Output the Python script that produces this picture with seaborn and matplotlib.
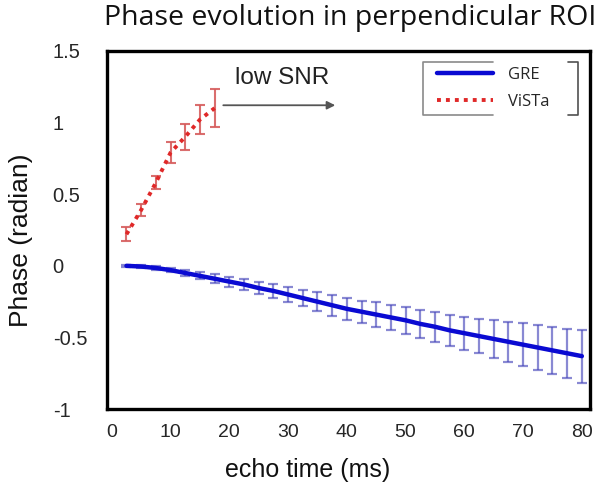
#!/usr/bin/env python3
"""Phase evolution in perpendicular ROI: GRE vs ViSTa."""

import matplotlib

matplotlib.use("Agg")
import matplotlib.pyplot as plt
import seaborn as sns

# echo times (ms) and mean phase (radian) with half error bars
TE_GRE = [2.5, 5, 7.5, 10, 12.5, 15, 17.5, 20, 22.5, 25, 27.5, 30, 32.5, 35,
          37.5, 40, 42.5, 45, 47.5, 50, 52.5, 55, 57.5, 60, 62.5, 65, 67.5,
          70, 72.5, 75, 77.5, 80]
GRE_PHASE = [0.0, -0.005, -0.015, -0.03, -0.05, -0.07, -0.09, -0.11, -0.13,
             -0.155, -0.175, -0.20, -0.225, -0.25, -0.275, -0.30, -0.32,
             -0.34, -0.36, -0.38, -0.405, -0.425, -0.45, -0.47, -0.49, -0.51,
             -0.53, -0.55, -0.57, -0.59, -0.61, -0.63]
GRE_ERR = [0.005, 0.008, 0.012, 0.016, 0.02, 0.025, 0.03, 0.035, 0.04, 0.045,
           0.05, 0.052, 0.058, 0.065, 0.072, 0.075, 0.078, 0.085, 0.09, 0.095,
           0.10, 0.105, 0.11, 0.115, 0.12, 0.13, 0.14, 0.148, 0.155, 0.162,
           0.17, 0.185]

TE_VISTA = [2.5, 5, 7.5, 10, 12.5, 15, 17.5]
VISTA_PHASE = [0.22, 0.39, 0.58, 0.79, 0.90, 1.02, 1.10]
VISTA_ERR = [0.05, 0.04, 0.045, 0.075, 0.09, 0.10, 0.13]

X_TICKS = [0, 10, 20, 30, 40, 50, 60, 70, 80]
Y_TICKS = [-1, -0.5, 0, 0.5, 1, 1.5]
Y_TICK_LABELS = ["-1", "-0.5", "0", "0.5", "1", "1.5"]

sns.set_theme(style="white")
plt.rcParams["font.family"] = ["Liberation Sans", "DejaVu Sans"]

fig = plt.figure(figsize=(6, 4.93), dpi=100)
ax = fig.add_axes([0.178, 0.170, 0.805, 0.727])

ax.errorbar(TE_GRE, GRE_PHASE, yerr=GRE_ERR, fmt="none", ecolor="#4a4abc",
            alpha=0.65, elinewidth=1.6, capsize=3.5, capthick=1.6, zorder=2)
sns.lineplot(x=TE_GRE, y=GRE_PHASE, ax=ax, color="#0a0ad2", lw=3.2,
             label="GRE", zorder=3)

ax.errorbar(TE_VISTA, VISTA_PHASE, yerr=VISTA_ERR, fmt="none",
            ecolor="#d65e5e", alpha=0.9, elinewidth=1.5, capsize=3.5,
            capthick=1.5, zorder=2)
sns.lineplot(x=TE_VISTA, y=VISTA_PHASE, ax=ax, color="#e02828", lw=2.8,
             linestyle=(0, (1, 1.3)), label="ViSTa", zorder=3)

ax.set_xlim(-0.85, 81.35)
ax.set_ylim(-1, 1.5)
ax.set_xticks(X_TICKS)
ax.set_yticks(Y_TICKS)
ax.set_yticklabels(Y_TICK_LABELS)
for lab in ax.get_yticklabels():
    lab.set_horizontalalignment("left")
ax.tick_params(axis="y", length=0, pad=39, labelsize=14.5, labelcolor="#262626")
ax.tick_params(axis="x", length=0, pad=11, labelsize=14, labelcolor="#262626")

for spine in ax.spines.values():
    spine.set_color("black")
    spine.set_linewidth(2.4)

ax.set_xlabel("echo time (ms)", fontsize=18, color="#111111")
ax.xaxis.set_label_coords(0.416, -0.135)
ax.set_ylabel("Phase (radian)", fontsize=19, color="#111111")
ax.yaxis.set_label_coords(-0.152, 0.472)

ax.annotate("", xy=(38.5, 1.12), xytext=(18.5, 1.12),
            arrowprops=dict(arrowstyle="-|>", color="#555555", lw=1.3,
                            mutation_scale=12))
ax.text(29, 1.31, "low SNR", fontsize=17.5, ha="center", va="center",
        color="#222222")

# legend without its own frame; the bracket-like frame is drawn separately
ax.legend(loc="upper left", bbox_to_anchor=(0.683, 0.955),
          borderaxespad=0, borderpad=0, handlelength=3.35,
          handletextpad=0.9, labelspacing=0.68, frameon=False,
          prop={"family": ["Open Sans", "DejaVu Sans"], "size": 12})
ax.plot([0.799, 0.654, 0.654, 0.799], [0.969, 0.969, 0.821, 0.821],
        transform=ax.transAxes, clip_on=False, color="#8a8a8a", lw=1.2)
ax.plot([0.954, 0.975, 0.975, 0.954], [0.969, 0.969, 0.821, 0.821],
        transform=ax.transAxes, clip_on=False, color="#505050", lw=1.2)

fig.text(0.583, 0.963, "Phase evolution in perpendicular ROI", fontsize=20.5,
         ha="center", va="center", family=["Open Sans", "DejaVu Sans"],
         color="#111111")

fig.savefig("out.png", dpi=100)
